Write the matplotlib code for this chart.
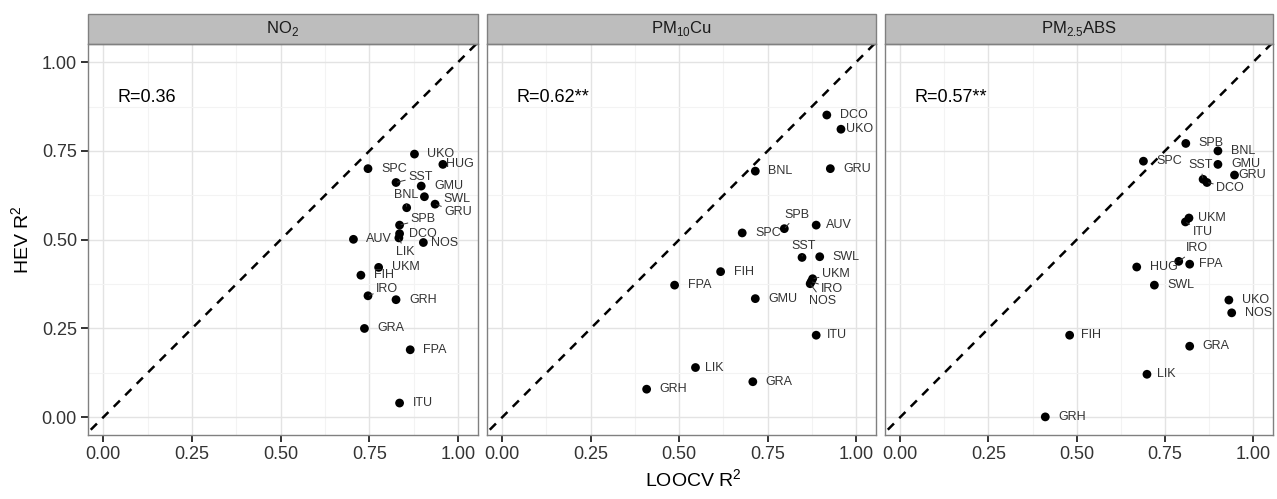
import matplotlib
matplotlib.use('Agg')
import matplotlib.pyplot as plt
from matplotlib.patches import Rectangle

plt.rcParams['font.family'] = ['Liberation Sans', 'DejaVu Sans']
plt.rcParams['mathtext.fontset'] = 'custom'
plt.rcParams['mathtext.rm'] = 'Liberation Sans'

# ---- data (LOOCV R2 vs HEV R2 per study area) ----
no2_sites = ['UKO', 'HUG', 'SPC', 'SST', 'GMU', 'SWL', 'BNL', 'GRU', 'SPB', 'DCO', 'LIK',
             'AUV', 'NOS', 'UKM', 'FIH', 'IRO', 'GRH', 'GRA', 'FPA', 'ITU']
no2_loocv = [0.877, 0.957, 0.746, 0.825, 0.896, 0.905, 0.855, 0.935, 0.835, 0.835, 0.833,
             0.705, 0.902, 0.776, 0.726, 0.746, 0.825, 0.736, 0.865, 0.835]
no2_hev = [0.741, 0.712, 0.700, 0.661, 0.651, 0.621, 0.590, 0.600, 0.541, 0.517, 0.505,
           0.501, 0.492, 0.422, 0.400, 0.342, 0.331, 0.250, 0.190, 0.040]

cu_sites = ['DCO', 'UKO', 'GRU', 'BNL', 'SPB', 'AUV', 'SPC', 'SST', 'SWL', 'FIH', 'FPA',
            'UKM', 'IRO', 'NOS', 'GMU', 'ITU', 'LIK', 'GRH', 'GRA']
cu_loocv = [0.917, 0.957, 0.927, 0.715, 0.797, 0.887, 0.678, 0.847, 0.897, 0.617, 0.487,
            0.877, 0.873, 0.870, 0.715, 0.887, 0.546, 0.408, 0.708]
cu_hev = [0.851, 0.811, 0.700, 0.693, 0.531, 0.541, 0.519, 0.450, 0.452, 0.410, 0.372,
          0.390, 0.382, 0.376, 0.334, 0.231, 0.140, 0.079, 0.100]

abs_sites = ['SPB', 'BNL', 'SPC', 'GMU', 'GRU', 'SST', 'DCO', 'UKM', 'ITU', 'IRO', 'FPA',
             'HUG', 'SWL', 'UKO', 'NOS', 'FIH', 'GRA', 'LIK', 'GRH']
abs_loocv = [0.809, 0.900, 0.689, 0.900, 0.947, 0.858, 0.869, 0.818, 0.808, 0.789, 0.820,
             0.670, 0.720, 0.931, 0.939, 0.480, 0.820, 0.699, 0.411]
abs_hev = [0.771, 0.750, 0.721, 0.712, 0.682, 0.670, 0.661, 0.561, 0.550, 0.439, 0.431,
           0.423, 0.372, 0.330, 0.294, 0.231, 0.200, 0.121, 0.001]

titles = ['NO$_\\mathregular{2}$', 'PM$_\\mathregular{10}$Cu', 'PM$_\\mathregular{2.5}$ABS']
r_texts = ['R=0.36', 'R=0.62**', 'R=0.57**']

# label offsets in pixels (dx, dy) where the default does not fit
offsets = [
    {'HUG': (3, 0), 'SST': (12, 6), 'SWL': (19, -2), 'BNL': (-13, 13), 'GRU': (9, -8),
     'SPB': (11, 6), 'DCO': (9, 0), 'LIK': (-3, -14), 'NOS': (8, 0), 'IRO': (8, 7)},
    {'UKO': (5, 0), 'SPB': (0, 14), 'SST': (-11, 11), 'UKM': (9, 5), 'IRO': (10, -7),
     'NOS': (-1, -17), 'AUV': (10, 0), 'ITU': (11, 0), 'LIK': (10, 0)},
    {'GRU': (4, 0), 'SST': (-15, 14), 'DCO': (9, -5), 'UKM': (9, 0), 'ITU': (7, -10),
     'IRO': (7, 13), 'FPA': (9, 0), 'LIK': (10, 0), 'FIH': (11, 0)},
]

panels = [(no2_sites, no2_loocv, no2_hev), (cu_sites, cu_loocv, cu_hev),
          (abs_sites, abs_loocv, abs_hev)]

W, H = 1277, 499
fig = plt.figure(figsize=(W / 100, H / 100), dpi=100)
lefts = [88, 487, 885]
widths = [390, 389, 388]
top_px, bot_px = 44, 435
ticks = [0.0, 0.25, 0.5, 0.75, 1.0]
ticklabels = ['0.00', '0.25', '0.50', '0.75', '1.00']
minor = [0.125, 0.375, 0.625, 0.875]

for i, (sites, xs, ys) in enumerate(panels):
    ax = fig.add_axes([lefts[i] / W, 1 - bot_px / H, widths[i] / W, (bot_px - top_px) / H])
    ax.set_xlim(-0.043, 1.056)
    ax.set_ylim(-0.05, 1.051)
    ax.set_xticks(ticks)
    ax.set_xticklabels(ticklabels)
    ax.set_yticks(ticks)
    ax.set_xticks(minor, minor=True)
    ax.set_yticks(minor, minor=True)
    ax.tick_params(which='minor', length=0)
    ax.tick_params(which='major', direction='out', length=5, width=1.4, color='#333333',
                   labelsize=13, labelcolor='#333333', pad=3)
    if i == 0:
        ax.set_yticklabels(ticklabels)
    else:
        ax.set_yticklabels([])
        ax.tick_params(axis='y', which='major', length=0)
    ax.grid(which='major', color='#e3e3e3', lw=1.0)
    ax.grid(which='minor', color='#f3f3f3', lw=0.8)
    ax.set_axisbelow(True)
    for s in ax.spines.values():
        s.set_color('#808080')
        s.set_linewidth(1.0)

    ax.plot([-0.1, 1.1], [-0.1, 1.1], ls=(0, (3.5, 3)), color='black', lw=1.8, zorder=2)
    ax.scatter(xs, ys, s=40, color='black', zorder=3, edgecolors='none')

    for name, x, y in zip(sites, xs, ys):
        dx, dy = offsets[i].get(name, (13, 0))
        arrow = None
        if abs(dy) > 4:
            arrow = dict(arrowstyle='-', lw=0.7, color='#333333', shrinkA=0, shrinkB=1)
        ax.annotate(name, (x, y), xytext=(dx, dy), textcoords='offset pixels',
                    ha='left', va='center', fontsize=9, color='#333333',
                    arrowprops=arrow, zorder=4)

    ax.text(0.04, 0.9, r_texts[i], transform=ax.transData, fontsize=13,
            ha='left', va='center', color='black')

    # facet strip
    strip_h = 30 / (bot_px - top_px)
    ax.add_patch(Rectangle((0, 1), 1, strip_h, transform=ax.transAxes, clip_on=False,
                           facecolor='#bdbdbd', edgecolor='#808080', lw=1.0))
    ax.text(0.5, 1 + strip_h / 2, titles[i], transform=ax.transAxes, ha='center',
            va='center', fontsize=12, color='#1a1a1a')

fig.text(693 / W, 1 - 480 / H, 'LOOCV R$^\\mathregular{2}$', ha='center', va='center',
         fontsize=14)
fig.text(22 / W, 1 - 240 / H, 'HEV R$^\\mathregular{2}$', ha='center', va='center',
         rotation=90, fontsize=14)

fig.savefig('out.png', dpi=100)
